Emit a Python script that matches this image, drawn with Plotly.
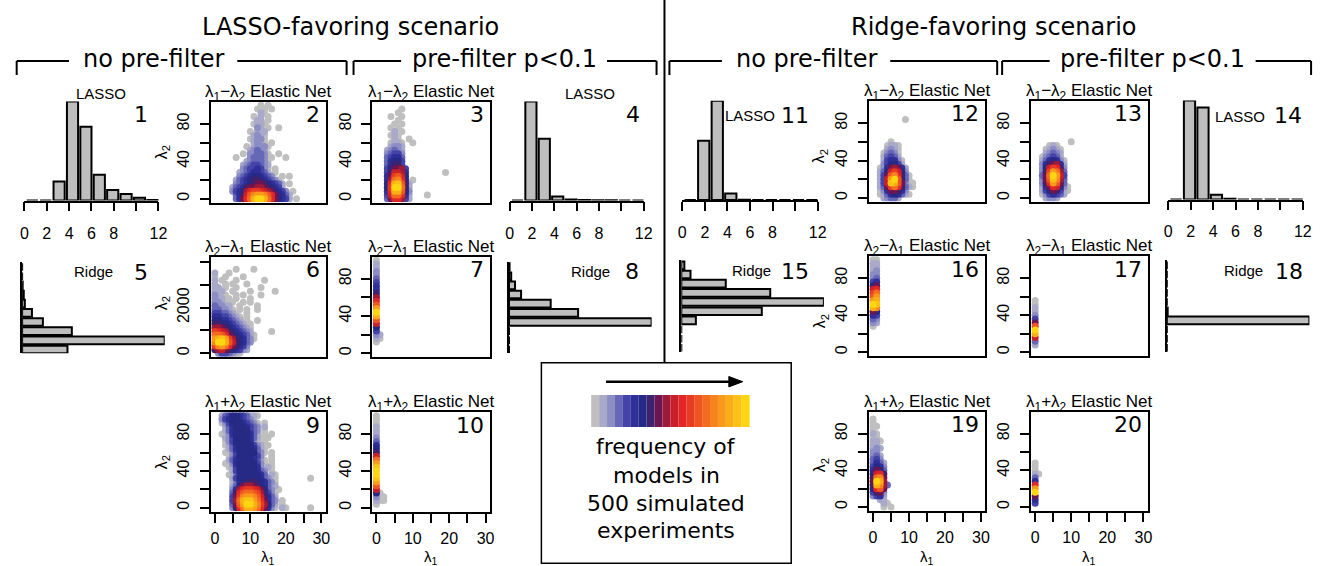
import plotly.graph_objects as go

W, H = 1328, 566

# ---------------- data ----------------
# histogram counts (out of 500 simulated experiments), barplot category k = 0..9
lasso_p1 = [0, 0, 40, 208, 155, 54, 22, 14, 6, 1]
lasso_p4 = [0, 296, 185, 12, 3, 2, 1, 1, 0, 0]
lasso_p11 = [0, 179, 300, 20, 1, 0, 0, 0, 0, 0]
lasso_p14 = [0, 252, 234, 12, 2, 0, 0, 0, 0, 0]
ridge_p5 = [83, 261, 91, 38, 18, 5, 3, 1, 0, 0]
ridge_p8 = [0, 0, 0, 260, 126, 76, 22, 11, 4, 1]
ridge_p15 = [0, 0, 0, 19, 105, 186, 116, 58, 12, 4]
ridge_p18 = [0, 0, 0, 497, 3, 0, 0, 0, 0, 0]
hist_labeled_ticks = [0, 2, 4, 6, 8, 12]
hist_ticklabels = ["0", "2", "4", "6", "8", "12"]
hist_minor_ticks = [10]

lam1_labeled_ticks = [0, 10, 20, 30]
lam1_ticklabels = ["0", "10", "20", "30"]
lam1_minor_ticks = [5, 15, 25]
lam2_labeled_ticks = [0, 40, 80]
lam2_ticklabels = ["0", "40", "80"]
lam2_minor_ticks = [20, 60]
lam2_big_labeled_ticks = [0, 2000]
lam2_big_ticklabels = ["0", "2000"]
lam2_big_minor_ticks = [1000, 3000, 4000]

# density grids: rows from top (highest lambda2) to lambda2 = 0,
# column i = lambda1 value; character = frequency level (1 = lowest/grey ... K = highest/yellow)
P2 = [
    ".............1.1", "............1.1.1", ".............21", "...........1.2.1",
    "............22.1", "...........1221", "............32.1..1", "..........1.222",
    "...........2321", "..........12331", "...........2321.1", ".........1.23331",
    "..........23432", "........1.334431..1", "......1...34443.1...1", ".........2344431",
    "........23455432", "........34556531.1", ".......234566542.1", ".......3456776543..1.1",
    "......2456788765431", "......34567899876542.1", ".....2456899AA987652",
    ".....3567ACDDCBA97653.1", "......468BEGHHGEC97642", "......469CFIKKIFC97652.1",
]
P3 = [
    "", ".......1", "......1", "....1..1", "......1", ".....1.1", "....1.1", ".....2.1",
    "....121", ".....21..1", "....1221..1", "....2332", "...23432", "...34553", "...45664",
    "...46775", "...46885", "...5799A5", "...58BBA6..........1", "...69DEB7", "...6AFGC7.1",
    "...7CIJE82", "...7DKKF82", "...6CIIE73", "...5BFFC62....1", "...49CCA52",
]
P6 = [
    "", "", "......1....1", "2...1", "1..1....1", "2.1...1.......1", "2..1.1...1",
    "22.1..1......1", "2.2..1....1......1", "32.1..1.1....1", "322.1.1...1", "3321.1..1.1",
    "43322..1....1", "443321.1.1..1", "5544321..1", "66554321.1", "7766543211..1",
    "88776543211", "AA987654321", "DCBA8765432.....1", "FFEC98765421", "HIJHDA876431",
    "GKKIEB87643", "DGHFC98653", "8AB9876532", ".3554321",
]
P7 = [
    "1", "2", "2", "3", "3", "4", "5", "6", "6", "8", "A", "C", "E", "H", "K", "I", "E",
    "B", "7", "5", "32", "21", "1", "", "", "",
]
P9 = [
    "..24577654221", "..3567765431", "..13577765431.1", "...2467776543.2",
    "...2467777543.1", "..1.367777642.1.1", "...23577776421.1", "...1357777631.1",
    "...12467777532.1", "....24677776421", "...1.3577777431.1", "....1357777653..1",
    "....24677776421.1", "...1.3677777531.1", "....1257777763.21", ".....2577777643.1",
    "....1.367777764.21", ".....25777777643.1.........1", ".....1367788776431",
    ".....2479AA98764.2", ".....36ACDDCB9743.1", ".....48CEFFEDA7531",
    ".....59DGHHGEB8642", ".....5AFIJJHFC9643.1", ".....49EHKKIGDA742.1",
    ".....38CFIIHFC9631.21......1",
]
P10 = [
    "1", "1", "1", "2", "2", "2", "3", "4", "6", "7", "8", "B", "F", "H", "J", "K", "K",
    "J", "H", "E", "B", "71", "311", "211", "1", "",
]
P12 = [
    "", "", "", "", ".........1", "", "", "", "", "", ".....1", "....1221", "....2321",
    "...13431", "...24542", "...256631", "...357752", "..1369A962", "..247BDB73",
    "..259EGC841", "..25BHKE841", "..25BJIE93.1", "..249DFC8421", "..13699863",
    "..124676421", "...23442",
]
P13 = [
    "", "", "", "", "", "", "", "", "", "", "..........1", "....121", "...12321", "...23432",
    "..134542", "..2467631", "..3689A62", "..37BDC83", "..38DHFA4", "..49FKHB5",
    "..39EJGA4", "..38CHE94", "..269CB731", "..25798521", "..1356542", "...2332",
]
P16 = [
    "11", "22", "22", "23", "33", "34", "56", "79", "BC", "DF", "EH", "HI", "KJ", "IG",
    "97", "65", "43", "32", "1", "", "", "", "", "", "", "",
]
P17 = [
    "", "", "", "", "", "", "", "", "", "", "", "1", "1", "2", "2", "3", "5", "9", "E",
    "K", "I", "B", "4", "2", "", "",
]
P19 = [
    "", "1", "1", "11", "1", "21", "11", "221", "22", "232", "33", "342", "453", "4642",
    "5763", "6984", "7BC8", "8FG9", "9KIA", "8IGA4", "7CE9", "5893", "3562", "..22",
    "...21", "...1.1",
]
P20 = [
    "", "", "", "", "", "", "", "", "", "", "", "", "", "1", "1", "1", "21", "4", "6", "C",
    "H", "K", "9", "6", "5", "",
]

LEVEL_CHARS = "123456789ABCDEFGHIJK"
PALETTE = ["#bfbfbf", "#a9a9c9", "#8d8dc6", "#6767b8", "#4343a8", "#2f2f99", "#272a85",
           "#3b2370", "#6b1653", "#9c1a3a", "#c8202b", "#e02626", "#e83b23", "#ee5322",
           "#f26b20", "#f5831e", "#f8991b", "#f9ae18", "#fbc215", "#fdd511"]


def decode(rows, ystep):
    n = len(rows)
    pts = []
    for r, row in enumerate(rows):
        j = n - 1 - r
        for i, ch in enumerate(row):
            k = LEVEL_CHARS.find(ch)
            if k >= 0:
                pts.append((k, i, j * ystep))
    pts.sort()
    return [p[1] for p in pts], [p[2] for p in pts], [p[0] for p in pts]


# ---------------- figure ----------------
fig = go.Figure()
layout = {}
shapes = []
annotations = []
axis_n = [0]

TICKFONT = dict(family="Liberation Sans, Arial", size=16, color="black")
SANS = "Liberation Sans, Arial"
DEJAVU = "DejaVu Sans"
FRAME_W = 2


def px_x(p):
    return p / W


def px_y(p):
    return 1 - p / H


def add_axes(x0, x1, y0, y1, xa, ya):
    axis_n[0] += 1
    n = axis_n[0]
    sfx = "" if n == 1 else str(n)
    xa = dict(xa)
    ya = dict(ya)
    xa.update(domain=[px_x(x0), px_x(x1)], anchor="y" + sfx)
    ya.update(domain=[px_y(y1), px_y(y0)], anchor="x" + sfx)
    layout["xaxis" + sfx] = xa
    layout["yaxis" + sfx] = ya
    return "x" + sfx, "y" + sfx


def text(t, x, y, size, family=DEJAVU, xanchor="center", yanchor="middle", angle=0):
    annotations.append(dict(text=t, x=px_x(x), y=px_y(y), xref="paper", yref="paper",
                            xanchor=xanchor, yanchor=yanchor, showarrow=False,
                            font=dict(size=size, family=family, color="black"),
                            textangle=angle))


def line(x0, y0, x1, y1, w=2):
    shapes.append(dict(type="line", xref="paper", yref="paper", x0=px_x(x0), y0=px_y(y0),
                       x1=px_x(x1), y1=px_y(y1), line=dict(color="black", width=w)))


def minor(vals, show=True):
    return dict(tickmode="array", tickvals=vals, ticks="outside" if show else "",
                ticklen=9, tickwidth=1.5, tickcolor="black", showgrid=False)


T12 = "λ<sub>1</sub>−λ<sub>2</sub> Elastic Net"
T21 = "λ<sub>2</sub>−λ<sub>1</sub> Elastic Net"
TPL = "λ<sub>1</sub>+λ<sub>2</sub> Elastic Net"


def scatter_panel(rows, ystep, frame, yrange, yt, ytl, ymin, show_x, ytitle_y, title, num):
    x0, x1, y0, y1 = frame
    xa = dict(range=[-1.2, 31.2], showline=True, mirror=True, linecolor="black",
              linewidth=FRAME_W, showgrid=False, zeroline=False,
              ticks="outside" if show_x else "", tickmode="array",
              tickvals=lam1_labeled_ticks, ticktext=lam1_ticklabels,
              showticklabels=show_x, ticklen=9, tickwidth=1.5, tickcolor="black",
              tickfont=TICKFONT, ticklabelstandoff=2, minor=minor(lam1_minor_ticks, show_x))
    ya = dict(range=yrange, showline=True, mirror=True, linecolor="black", linewidth=FRAME_W,
              showgrid=False, zeroline=False, ticks="outside", tickmode="array", tickvals=yt,
              ticktext=ytl, tickangle=-90, ticklen=9, tickwidth=1.5, tickcolor="black",
              tickfont=TICKFONT, ticklabelstandoff=4, minor=minor(ymin))
    xr, yr = add_axes(x0, x1, y0, y1, xa, ya)
    xs, ys, ls = decode(rows, ystep)
    fig.add_trace(go.Scatter(x=xs, y=ys, xaxis=xr, yaxis=yr, mode="markers",
                             marker=dict(size=7, color=[PALETTE[l] for l in ls],
                                         line=dict(width=0)),
                             showlegend=False, hoverinfo="skip"))
    text(title, (x0 + x1) / 2, y0 - 9, 17, SANS)
    text(num, x1 - 4, y0 + 13, 22, DEJAVU, xanchor="right")
    if ytitle_y is not None:
        text("λ<sub>2</sub>", x0 - 49, ytitle_y, 16, SANS, angle=-90)
    if show_x:
        text("λ<sub>1</sub>", (x0 + x1) / 2, 557, 15, SANS)


def vhist(counts, x0, x1, top, base, label, lab_xy, num, num_xy):
    xa = dict(range=[0, 12], showline=True, linecolor="black", linewidth=1.5,
              ticks="outside", tickmode="array", tickvals=hist_labeled_ticks,
              ticktext=hist_ticklabels, ticklen=9, tickwidth=1.5, tickcolor="black",
              tickfont=TICKFONT, showgrid=False, zeroline=False, ticklabelstandoff=8,
              minor=minor(hist_minor_ticks))
    ya = dict(range=[0, max(counts)], visible=False)
    xr, yr = add_axes(x0, x1, top, base, xa, ya)
    pos = [0.7 + 1.2 * k for k in range(len(counts))]
    fig.add_trace(go.Bar(x=pos, y=counts, width=1, xaxis=xr, yaxis=yr,
                         marker=dict(color="#bebebe", line=dict(color="black", width=2)),
                         showlegend=False, hoverinfo="skip"))
    text(label, lab_xy[0], lab_xy[1], 15, SANS)
    text(num, num_xy[0], num_xy[1], 22, DEJAVU)


def hhist(counts, xaxis_px, top, base, label, lab_xy, num, num_xy):
    xa = dict(range=[0, max(counts)], visible=False)
    ya = dict(range=[0.2, 12.2], showline=True, linecolor="black", linewidth=2, ticks="",
              showticklabels=False, showgrid=False, zeroline=False)
    xr, yr = add_axes(xaxis_px, xaxis_px + 144, top, base, xa, ya)
    pos = [0.7 + 1.2 * k for k in range(len(counts))]
    fig.add_trace(go.Bar(y=pos, x=counts, width=1, orientation="h", xaxis=xr, yaxis=yr,
                         marker=dict(color="#bebebe", line=dict(color="black", width=2)),
                         showlegend=False, hoverinfo="skip"))
    text(label, lab_xy[0], lab_xy[1], 15, SANS)
    text(num, num_xy[0], num_xy[1], 22, DEJAVU)


LR = [-4, 104]
BR = [-163, 4243]
L2 = (lam2_labeled_ticks, lam2_ticklabels, lam2_minor_ticks)
LB = (lam2_big_labeled_ticks, lam2_big_ticklabels, lam2_big_minor_ticks)
R1 = (101.5, 202.5)
R2 = (256.5, 357)
R3 = (412, 511.5)
CB = (208.7, 324.7)
CC = (371.7, 490.7)
CF = (873.3, 991.0)
CG = (1037.0, 1155.0)

# LASSO-favoring scenario
vhist(lasso_p1, 20.7, 156, 101.5, 200.6, "LASSO", (97.5, 93), "1", (138.5, 114))
scatter_panel(P2, 4, CB + R1, LR, *L2, False, 152, T12, "2")
scatter_panel(P3, 4, CC + R1, LR, *L2, False, None, T12, "3")
vhist(lasso_p4, 510.7, 646, 101.5, 200.6, "LASSO", (591.7, 93), "4", (635, 114.5))
hhist(ridge_p5, 18.3, 261.7, 353.3, "Ridge", (90, 271), "5", (138, 272.5))
scatter_panel(P6, 160, CB + R2, BR, *LB, False, 303, T21, "6")
scatter_panel(P7, 4, CC + R2, LR, *L2, False, None, T21, "7")
hhist(ridge_p8, 510, 261.7, 353.3, "Ridge", (592.5, 271), "8", (634, 271))
scatter_panel(P9, 4, CB + R3, LR, *L2, True, 462, TPL, "9")
scatter_panel(P10, 4, CC + R3, LR, *L2, True, None, TPL, "10")

# Ridge-favoring scenario
vhist(lasso_p11, 685, 821.7, 100.7, 200, "LASSO", (753, 115), "11", (799, 115))
scatter_panel(P12, 4, CF + (100.7, 201.7), LR, *L2, False, 156, T12, "12")
scatter_panel(P13, 4, CG + (100.7, 201.7), LR, *L2, False, None, T12, "13")
vhist(lasso_p14, 1175.7, 1311.7, 100.5, 199.5, "LASSO", (1248, 116.5), "14", (1296.7, 115.5))
hhist(ridge_p15, 684, 260, 351.7, "Ridge", (755, 270), "15", (799, 271.5))
scatter_panel(P16, 4, CF + (256, 356), LR, *L2, False, 321, T21, "16")
scatter_panel(P17, 4, CG + (256, 356), LR, *L2, False, None, T21, "17")
hhist(ridge_p18, 1174.3, 260, 351.7, "Ridge", (1251.7, 270), "18", (1298, 271.5))
scatter_panel(P19, 4, CF + (411.7, 510.7), LR, *L2, True, 465, TPL, "19")
scatter_panel(P20, 4, CG + (411.7, 510.7), LR, *L2, True, None, TPL, "20")

# ---------------- header ----------------
text("LASSO-favoring scenario", 350, 27, 24)
text("Ridge-favoring scenario", 1000, 27, 24)
BY, BT = 61, 75
for (x0, x1, tx, label, tw) in [
    (12.8, 346, 150.6, "no pre-filter", 156),
    (353, 659, 505, "pre-filter p<0.1", 194),
    (672, 1003, 810, "no pre-filter", 156),
    (1008, 1320, 1160, "pre-filter p<0.1", 194),
]:
    line(x0, BY, tx - tw / 2 - 7, BY)
    line(tx + tw / 2 + 7, BY, x1, BY)
    line(x0, BY, x0, BT)
    line(x1, BY, x1, BT)
    text(label.replace("<", "&lt;"), tx, BY - 2, 24)

# divider
line(667, 0, 667, 362.7)

# ---------------- legend ----------------
shapes.append(dict(type="rect", xref="paper", yref="paper", x0=px_x(542.7), x1=px_x(795),
                   y0=px_y(563.3), y1=px_y(362.7), line=dict(color="black", width=1.5)))
line(608, 381.7, 736, 381.7, 2.5)
shapes.append(dict(type="path", xref="paper", yref="paper",
                   path="M %f %f L %f %f L %f %f Z" % (px_x(732), px_y(376.5), px_x(746),
                                                       px_y(381.7), px_x(732), px_y(386.9)),
                   fillcolor="black", line=dict(color="black", width=1)))
sw = (753 - 593) / len(PALETTE)
for k, c in enumerate(PALETTE):
    shapes.append(dict(type="rect", xref="paper", yref="paper", x0=px_x(593 + k * sw),
                       x1=px_x(593 + (k + 1) * sw), y0=px_y(427), y1=px_y(395),
                       fillcolor=c, line=dict(width=0)))
for t, y in [("frequency of", 446.7), ("models in", 475), ("500 simulated", 503),
             ("experiments", 530.5)]:
    text(t, 669, y, 22)

layout.update(width=W, height=H, margin=dict(l=0, r=0, t=0, b=0),
              paper_bgcolor="white", plot_bgcolor="white", showlegend=False,
              shapes=shapes, annotations=annotations)
fig.update_layout(**layout)
fig.write_html("out.html")
